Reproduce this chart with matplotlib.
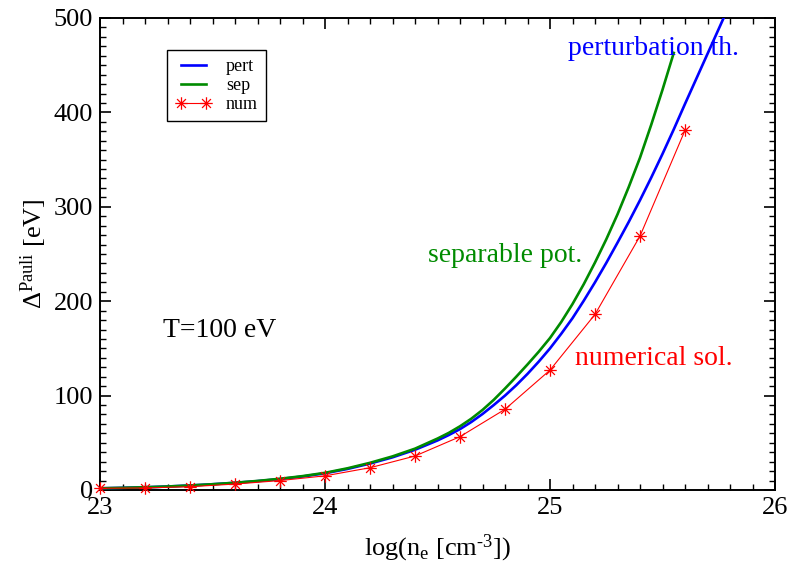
import matplotlib
matplotlib.use("Agg")
import matplotlib.pyplot as plt
from matplotlib.path import Path

plt.rcParams['font.family'] = ['Liberation Serif', 'DejaVu Sans']
plt.rcParams['mathtext.fontset'] = 'custom'
plt.rcParams['mathtext.rm'] = 'Liberation Serif'
plt.rcParams['mathtext.it'] = 'Liberation Serif:italic'

# ---- data ----
pert_x = [23.0, 23.1, 23.2, 23.3, 23.4, 23.5, 23.6, 23.7, 23.8, 23.9,
          24.0, 24.1, 24.2, 24.3, 24.4, 24.5, 24.55, 24.6, 24.65, 24.7,
          24.75, 24.8, 24.85, 24.9, 24.95, 25.0, 25.05, 25.1, 25.15, 25.2,
          25.25, 25.3, 25.35, 25.4, 25.45, 25.5, 25.55, 25.6, 25.65, 25.7,
          25.75, 25.8]
pert_y = [1.8, 2.3, 2.9, 3.7, 4.8, 6.1, 7.6, 9.4, 11.6, 14.3,
          17.7, 22.3, 28.0, 34.6, 42.6, 52.5, 58.2, 64.5, 72.0, 80.5,
          90.0, 100.0, 111.0, 123.0, 136.0, 150.0, 165.5, 182.0, 200.5, 220.0,
          240.5, 262.0, 284.0, 307.0, 331.0, 356.0, 382.0, 409.0, 435.5, 462.0,
          488.5, 515.0]

sep_x = [23.0, 23.1, 23.2, 23.3, 23.4, 23.5, 23.6, 23.7, 23.8, 23.9,
         24.0, 24.1, 24.2, 24.3, 24.4, 24.5, 24.55, 24.6, 24.65, 24.7,
         24.75, 24.8, 24.85, 24.9, 24.95, 25.0, 25.05, 25.1, 25.15, 25.2,
         25.25, 25.3, 25.35, 25.4, 25.45, 25.5, 25.55]
sep_y = [1.8, 2.3, 2.9, 3.7, 4.8, 6.1, 7.7, 9.6, 11.9, 14.7,
         18.2, 23.0, 28.8, 35.6, 43.8, 54.5, 60.5, 67.5, 75.5, 84.8,
         95.5, 107.5, 120.0, 133.0, 146.5, 161.0, 178.0, 197.0, 218.0, 241.0,
         265.5, 292.0, 321.0, 352.0, 387.0, 424.0, 463.0]

num_x = [23.0, 23.2, 23.4, 23.6, 23.8, 24.0, 24.2, 24.4, 24.6, 24.8,
         25.0, 25.2, 25.4, 25.6]
num_y = [1.8, 2.2, 3.5, 6.3, 10.0, 15.0, 23.6, 36.0, 56.5, 85.5,
         127.0, 186.0, 269.0, 381.0]

x_ticks = [23, 24, 25, 26]
y_ticks = [0, 100, 200, 300, 400, 500]

# ---- styles ----
BLUE = '#0000ff'
GREEN = '#008b00'
RED = '#ff0000'

star = Path([(-1, 0), (1, 0), (0, -1), (0, 1),
             (-0.707, -0.707), (0.707, 0.707), (-0.707, 0.707), (0.707, -0.707)],
            [Path.MOVETO, Path.LINETO] * 4)

fig = plt.figure(figsize=(7.91, 5.63), dpi=100)
ax = fig.add_axes([100 / 791, 73 / 563, 675 / 791, 472 / 563])

ax.plot(pert_x, pert_y, color=BLUE, lw=1.9, label='pert', zorder=3)
ax.plot(sep_x, sep_y, color=GREEN, lw=1.9, label='sep', zorder=3)
ax.plot(num_x, num_y, color=RED, lw=0.8, marker=star, markersize=9,
        markerfacecolor='none', markeredgecolor=RED, markeredgewidth=0.9,
        label='num', clip_on=False, zorder=4)

ax.set_xlim(23, 26)
ax.set_ylim(0, 500)
ax.set_xticks(x_ticks)
ax.set_yticks(y_ticks)
ax.set_xticks([23 + 0.1 * i for i in range(31)], minor=True)
ax.set_yticks(list(range(0, 501, 10)), minor=True)

ax.tick_params(which='both', direction='in', top=True, right=True,
               labelsize=19, colors='black')
ax.tick_params(which='major', length=8, width=1.2, pad=5)
ax.tick_params(which='minor', length=4.3, width=1.0)
for s in ax.spines.values():
    s.set_linewidth(1.4)

ax.set_xlabel('log(n$_\\mathregular{e}$ [cm$^\\mathregular{\u20103}$])',
              fontsize=19, labelpad=10)
ax.set_ylabel(r'$\mathregular{Δ^{Pauli}}$ [eV]', fontsize=19, labelpad=3)

ax.text(25.08, 461, 'perturbation th.', color=BLUE, fontsize=20)
ax.text(24.458, 242, 'separable pot.', color=GREEN, fontsize=20)
ax.text(25.111, 132, 'numerical sol.', color=RED, fontsize=20)
ax.text(23.28, 162, 'T=100 eV', color='black', fontsize=20)

leg = ax.legend(loc='upper left', bbox_to_anchor=(0.0997, 0.932),
                borderaxespad=0, fontsize=13, numpoints=2, frameon=True,
                fancybox=False, edgecolor='black', framealpha=1,
                handlelength=2.0, handletextpad=0.8, labelspacing=0.1,
                borderpad=0.45)
leg.get_frame().set_linewidth(1.0)

fig.savefig('out.png', dpi=100)
